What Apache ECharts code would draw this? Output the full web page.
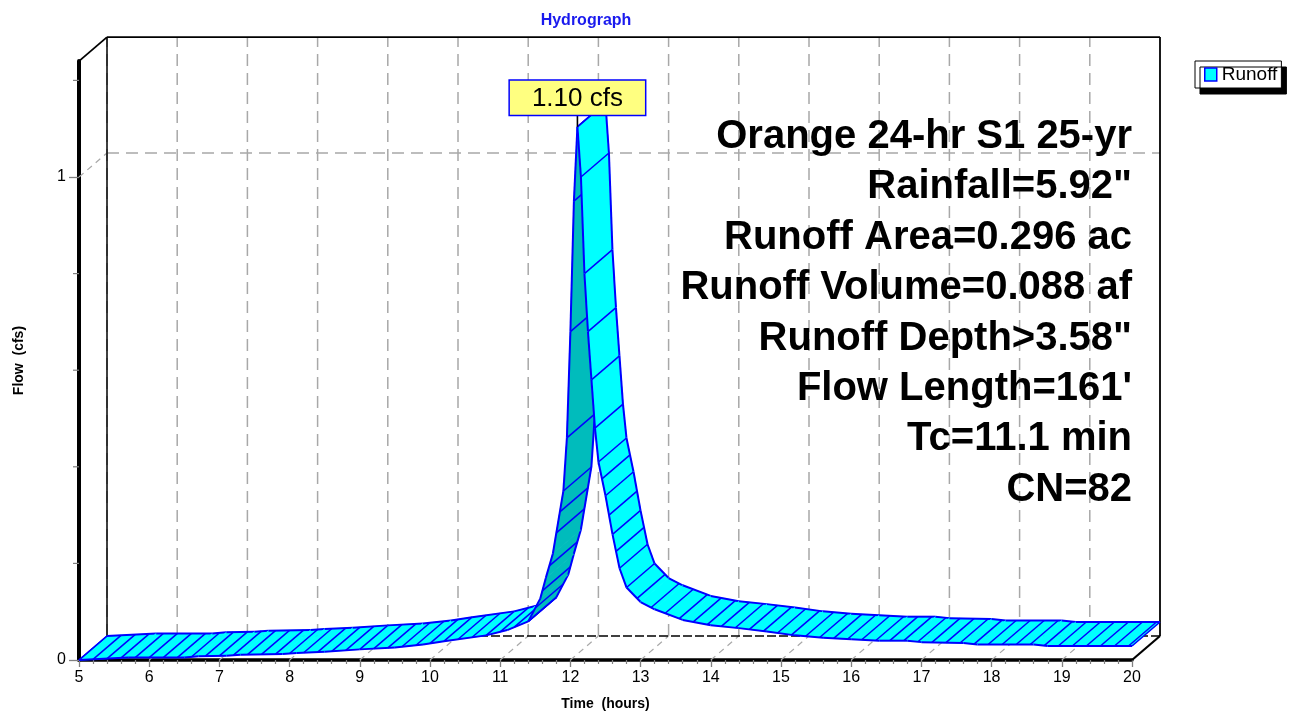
<!DOCTYPE html>
<html>
<head>
<meta charset="utf-8">
<script src="https://cdn.jsdelivr.net/npm/echarts@6.0.0/dist/echarts.min.js"></script>
<style>
html,body{margin:0;padding:0;background:#ffffff;}
#chart{width:1294px;height:713px;}
</style>
</head>
<body>
<div id="chart"></div>
<script>
// ---------------- data ----------------
const hours = [5.0, 5.7, 6.5, 6.7, 7.1, 7.3, 7.9, 8.1, 8.5, 9.0, 9.5, 9.9, 10.2, 10.8, 11.1, 11.4, 11.57, 11.65, 11.75, 11.9, 11.95, 12.0, 12.05, 12.1,
  12.15, 12.2, 12.25, 12.3, 12.35, 12.4, 12.5, 12.6, 12.7, 12.8, 13.0, 13.2, 13.6, 14.0, 14.4, 14.8, 15.2, 15.6, 16.0, 16.4, 16.8, 17.0, 17.6, 17.8, 18.6, 18.8, 20.0];
const flowCfs = [0.000, 0.005, 0.005, 0.0076, 0.009, 0.011, 0.0125, 0.0145, 0.017, 0.022, 0.026, 0.032, 0.039, 0.051, 0.062, 0.080, 0.127, 0.17, 0.22, 0.35, 0.46, 0.68, 0.95, 1.104,
  1.00, 0.80, 0.68, 0.58, 0.48, 0.41, 0.34, 0.26, 0.19, 0.15, 0.12, 0.105, 0.083, 0.072, 0.066, 0.059, 0.051, 0.046, 0.043, 0.040, 0.040, 0.037, 0.035, 0.032, 0.032, 0.029, 0.029];
const xTickHours = [5, 6, 7, 8, 9, 10, 11, 12, 13, 14, 15, 16, 17, 18, 19, 20];
const yTickLabels = [0, 1];
const yMinorTicks = [0.2, 0.4, 0.6, 0.8, 1.2];
const yGridValues = [1];
const infoLines = ['Orange 24-hr S1 25-yr', 'Rainfall=5.92"', 'Runoff Area=0.296 ac', 'Runoff Volume=0.088 af',
  'Runoff Depth>3.58"', "Flow Length=161'", 'Tc=11.1 min', 'CN=82'];
const seriesName = 'Runoff';
const peakUnit = 'cfs';

// ---------------- style ----------------
const X_MIN = 5, X_MAX = 20, Y_MAX = 1.24;
const DX = 28, DY = -24;          // 3D depth offset in pixels
const CYAN = '#00ffff', DARK = '#00bcbc', EDGE = '#0000ff';
const GRID_GRAY = '#a8a8a8';
const FONT = "'Liberation Sans', Arial, sans-serif";
const HATCH_DT = 0.05, HATCH_MIN = 14;

const chart = echarts.init(document.getElementById('chart'), null, {renderer: 'canvas'});

const segs = [];
for (let i = 0; i < hours.length - 1; i++) segs.push([hours[i], flowCfs[i], hours[i + 1], flowCfs[i + 1]]);

let peakIdx = 0;
flowCfs.forEach((v, i) => { if (v > flowCfs[peakIdx]) peakIdx = i; });

function add(p) { return [p[0] + DX, p[1] + DY]; }
function ln(a, b, stroke, w, dash) {
  return {type: 'line', shape: {x1: a[0], y1: a[1], x2: b[0], y2: b[1]},
    style: {stroke: stroke, lineWidth: w, lineDash: dash || null, lineCap: 'butt'}};
}
function shadeOf(api, i) {
  if (i < 0 || i >= segs.length) return -1;
  const a = api.coord([hours[i], flowCfs[i]]), b = api.coord([hours[i + 1], flowCfs[i + 1]]);
  const ax = b[0] - a[0], ay = b[1] - a[1];
  return (ax * DY - ay * DX) > 0 ? 1 : 0;
}

let lastHatch = null;
function renderRibbon(params, api) {
  const i = params.dataIndex;
  if (i === 0) lastHatch = null;
  const t0 = api.value(0), q0 = api.value(1), t1 = api.value(2), q1 = api.value(3);
  const p0 = api.coord([t0, q0]), p1 = api.coord([t1, q1]);
  const b0 = add(p0), b1 = add(p1);
  const s = shadeOf(api, i);
  const fill = s ? DARK : CYAN;
  const children = [{type: 'polygon', shape: {points: [p0, p1, b1, b0]}, style: {fill: fill, stroke: fill, lineWidth: 0.8}}];
  let k = Math.ceil(t0 / HATCH_DT - 1e-7);
  for (; k * HATCH_DT < t1 - 1e-7; k++) {
    const t = k * HATCH_DT;
    const f = (t - t0) / (t1 - t0);
    const P = [p0[0] + f * (p1[0] - p0[0]), p0[1] + f * (p1[1] - p0[1])];
    if (!lastHatch || Math.hypot(P[0] - lastHatch[0], P[1] - lastHatch[1]) >= HATCH_MIN - 0.05) {
      children.push(ln(P, add(P), EDGE, 1.5));
      lastHatch = P;
    }
  }
  children.push(ln(p0, p1, EDGE, 2));
  children.push(ln(b0, b1, EDGE, 2));
  if (i === 0 || shadeOf(api, i - 1) !== s) children.push(ln(p0, b0, EDGE, 1.6));
  if (i === segs.length - 1 || shadeOf(api, i + 1) !== s) children.push(ln(p1, b1, EDGE, 1.6));
  return {type: 'group', children: children};
}

function renderWalls(params, api) {
  const c = api.coord;
  const fl0 = c([X_MIN, 0]), fr0 = c([X_MAX, 0]), flt = c([X_MIN, Y_MAX]), frt = c([X_MAX, Y_MAX]);
  const ch = [];
  xTickHours.forEach(h => {
    if (h === X_MAX) return;
    ch.push(ln(add(c([h, 0])), add(c([h, Y_MAX])), GRID_GRAY, 1.5, [12, 7]));
  });
  yGridValues.forEach(v => {
    ch.push(ln(add(c([X_MIN, v])), add(c([X_MAX, v])), GRID_GRAY, 1.5, [12, 7]));
    ch.push(ln(c([X_MIN, v]), add(c([X_MIN, v])), GRID_GRAY, 1.2, [6, 5]));
  });
  xTickHours.forEach(h => {
    if (h === X_MIN || h === X_MAX) return;
    ch.push(ln(c([h, 0]), add(c([h, 0])), GRID_GRAY, 1.2, [6, 5]));
  });
  ch.push(ln(add(fl0), add(flt), '#000', 1.5));
  ch.push(ln(add(flt), add(frt), '#000', 1.8));
  ch.push(ln(add(frt), add(fr0), '#000', 1.8));
  ch.push(ln(add(fl0), add(fr0), '#000', 1.6, [9, 3]));
  ch.push(ln(flt, add(flt), '#000', 1.8));
  ch.push(ln(fr0, add(fr0), '#000', 2.2));
  yMinorTicks.forEach(v => {
    const p = c([X_MIN, v]);
    ch.push(ln([p[0] - 6, p[1]], p, '#808080', 1.2));
  });
  return {type: 'group', children: ch};
}

function renderPeak(params, api) {
  const p = api.coord([api.value(0), api.value(1)]);
  const top = [p[0], p[1] - 12];
  return {type: 'group', children: [
    ln(p, top, '#000', 1.6),
    {type: 'text', x: top[0], y: top[1], z2: 10,
      style: {text: api.value(1).toFixed(2) + ' ' + peakUnit, x: 0, y: 0, align: 'center', verticalAlign: 'bottom',
        fill: '#000', font: '26px ' + FONT, backgroundColor: '#ffff80', borderColor: EDGE, borderWidth: 1.5,
        padding: [5, 22, 3, 22]}}
  ]};
}

const infoGraphics = infoLines.map((t, i) => ({
  type: 'text', x: 1132, y: 137 + i * 50.4, z: 50,
  style: {text: t, align: 'right', verticalAlign: 'middle', fill: '#000', font: 'bold 40px ' + FONT}
}));

chart.setOption({
  animation: false,
  backgroundColor: '#ffffff',
  title: {text: 'Hydrograph', left: 581, top: 8, textAlign: 'center',
    textStyle: {color: '#1a1aee', fontSize: 16, fontWeight: 'bold', fontFamily: FONT}},
  legend: {left: 1195, top: 61, orient: 'vertical', backgroundColor: '#fff', borderColor: '#000', borderWidth: 1,
    padding: [4, 4, 4, 9], itemWidth: 12, itemHeight: 13, itemGap: 0,
    shadowColor: '#000', shadowOffsetX: 5, shadowOffsetY: 6, shadowBlur: 0.01,
    textStyle: {color: '#000', fontSize: 19, fontFamily: FONT, padding: [0, 0, 0, 0]},
    data: [{name: seriesName, icon: 'rect', itemStyle: {color: CYAN, borderColor: EDGE, borderWidth: 1.5}}]},
  grid: {left: 79, right: 162, top: 660 - Y_MAX * 483, bottom: 53, containLabel: false, outerBoundsMode: 'none', show: false},
  xAxis: {type: 'value', min: X_MIN, max: X_MAX, interval: 1,
    name: 'Time  (hours)', nameLocation: 'middle', nameGap: 37,
    nameTextStyle: {color: '#000', fontSize: 14, fontWeight: 'bold', fontFamily: FONT},
    axisLine: {show: true, lineStyle: {color: '#000', width: 3.5}},
    axisTick: {show: true, length: 7, lineStyle: {color: '#808080', width: 1.3}},
    minorTick: {show: true, splitNumber: 5, length: 4, lineStyle: {color: '#808080', width: 1.2}},
    axisLabel: {show: true, margin: 10, color: '#000', fontSize: 16, fontFamily: FONT},
    splitLine: {show: false}, minorSplitLine: {show: false}},
  yAxis: {type: 'value', min: 0, max: Y_MAX,
    name: 'Flow  (cfs)', nameLocation: 'middle', nameGap: 53, nameRotate: 90,
    nameTextStyle: {color: '#000', fontSize: 14, fontWeight: 'bold', fontFamily: FONT},
    axisLine: {show: true, lineStyle: {color: '#000', width: 4}},
    axisTick: {show: true, length: 10, customValues: yTickLabels, lineStyle: {color: '#808080', width: 1.3}},
    axisLabel: {show: true, margin: 13, customValues: yTickLabels, color: '#000', fontSize: 16, fontFamily: FONT,
      formatter: v => String(Math.round(v))},
    splitLine: {show: false}},
  graphic: infoGraphics,
  series: [
    {type: 'custom', name: 'walls', silent: true, z: 1, clip: false, renderItem: renderWalls, data: [[0]], legendHoverLink: false},
    {type: 'custom', name: seriesName, silent: true, z: 3, clip: false, renderItem: renderRibbon, data: segs,
      itemStyle: {color: CYAN}, encode: {x: [0, 2], y: [1, 3]}},
    {type: 'custom', name: 'peak', silent: true, z: 6, clip: false, renderItem: renderPeak,
      data: [[hours[peakIdx], flowCfs[peakIdx]]]}
  ]
});
</script>
</body>
</html>
